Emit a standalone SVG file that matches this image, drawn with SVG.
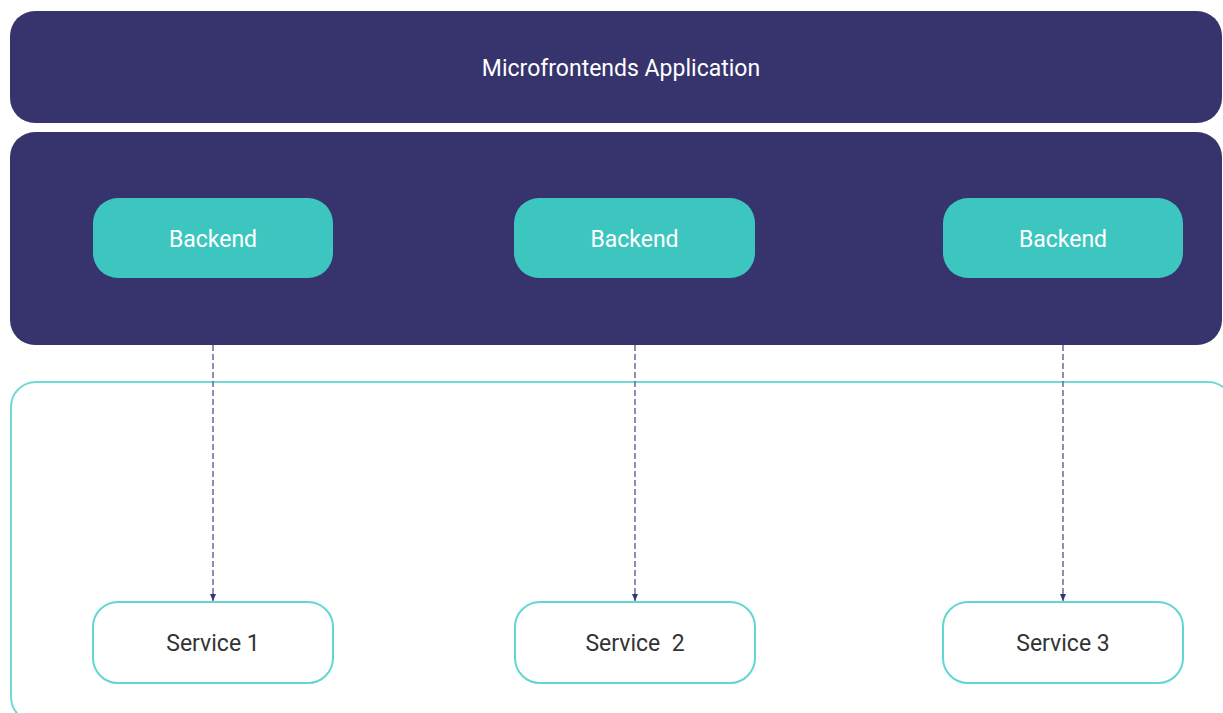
<svg xmlns="http://www.w3.org/2000/svg" width="1223" height="713" viewBox="0 0 1223 713">
<defs>
<style>
.dark{fill:#36336d;}
.be{fill:#3dc6c0;}
.svc{fill:#ffffff;stroke:#62d6d1;stroke-width:2;}
.outer{fill:#ffffff;stroke:#72dad5;stroke-width:2;}
.lbl{font-family:Roboto,"Liberation Sans",sans-serif;font-size:23px;text-anchor:middle;}
.w{fill:#ffffff;}
.k{fill:#333333;}
.conn{stroke:#6b6898;stroke-width:1.5;stroke-dasharray:6,3;fill:none;marker-end:url(#arr);}
</style>
<marker id="arr" markerWidth="7" markerHeight="6" refX="7" refY="3" orient="auto" markerUnits="userSpaceOnUse" viewBox="0 0 7 6">
<path d="M0,0 L7,3 L0,6 Z" fill="#36336d"/>
</marker>
</defs>
<rect width="1223" height="713" fill="#ffffff"/>
<g id="app">
<rect class="dark" x="10" y="11" width="1212" height="112" rx="25"/>
<text class="lbl w" x="621" y="76">Microfrontends Application</text>
</g>
<g id="backend-layer">
<rect class="dark" x="10" y="132" width="1212" height="213" rx="25"/>
</g>
<g id="services-layer">
<rect class="outer" x="11" y="382" width="1222" height="340" rx="25"/>
</g>
<g id="backend1">
<rect class="be" x="93" y="198" width="240" height="80" rx="25"/>
<text class="lbl w" x="213" y="247">Backend</text>
</g>
<g id="backend2">
<rect class="be" x="514" y="198" width="241" height="80" rx="25"/>
<text class="lbl w" x="634.5" y="247">Backend</text>
</g>
<g id="backend3">
<rect class="be" x="943" y="198" width="240" height="80" rx="25"/>
<text class="lbl w" x="1063" y="247">Backend</text>
</g>
<g id="connectors">
<line class="conn" x1="213" y1="345" x2="213" y2="601"/>
<line class="conn" x1="635" y1="345" x2="635" y2="601"/>
<line class="conn" x1="1063" y1="345" x2="1063" y2="601"/>
</g>
<g id="service1">
<rect class="svc" x="93" y="602" width="240" height="81" rx="25"/>
<text class="lbl k" x="213" y="651">Service 1</text>
</g>
<g id="service2">
<rect class="svc" x="515" y="602" width="240" height="81" rx="25"/>
<text class="lbl k" x="635" y="651" xml:space="preserve">Service  2</text>
</g>
<g id="service3">
<rect class="svc" x="943" y="602" width="240" height="81" rx="25"/>
<text class="lbl k" x="1063" y="651">Service 3</text>
</g>
</svg>
